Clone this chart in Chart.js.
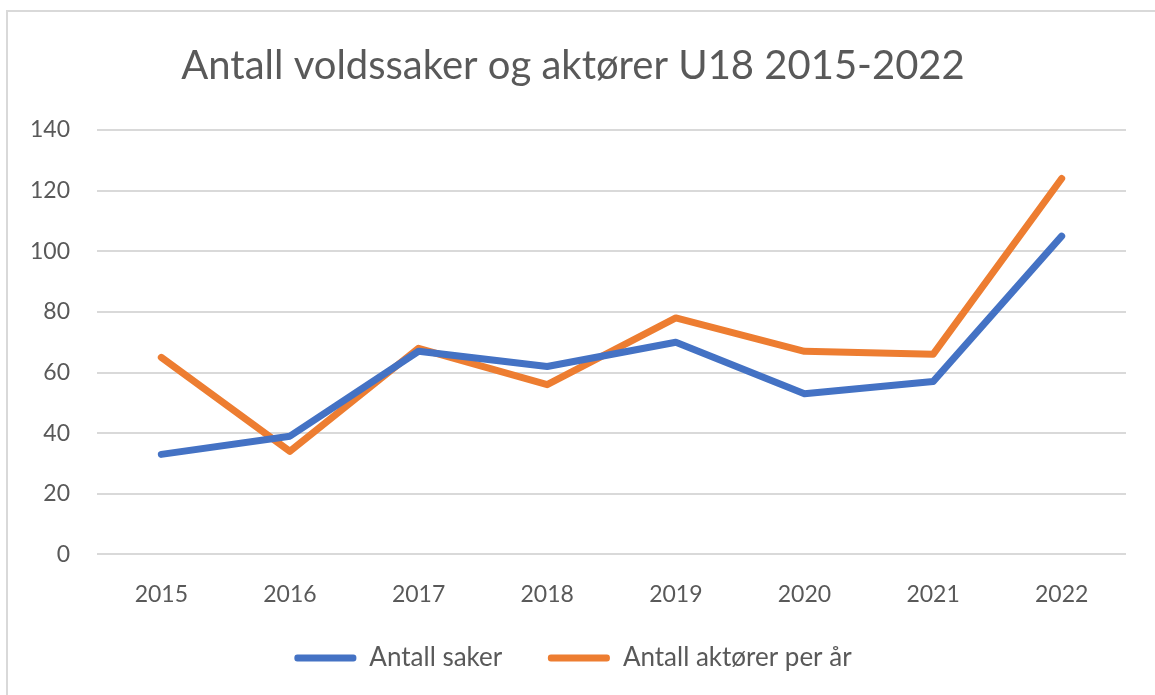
<!DOCTYPE html>
<html>
<head>
<meta charset="utf-8">
<script src="https://cdn.jsdelivr.net/npm/chart.js@4"></script>
<style>
  body { margin: 0; background: #fff; }
  #ramme { position: absolute; left: 6px; top: 10px; width: 1160px; height: 700px; border: 2px solid #d9d9d9; box-sizing: border-box; }
  #wrap { position: absolute; left: 0; top: 0; width: 1155px; height: 695px; }
</style>
</head>
<body>
<div id="ramme"></div>
<div id="wrap"><canvas id="graf"></canvas></div>
<script>
const aar = ['2015', '2016', '2017', '2018', '2019', '2020', '2021', '2022']
const antallSaker = [33, 39, 67, 62, 70, 53, 57, 105]
const antallAktorer = [65, 34, 68, 56, 78, 67, 66, 124]
const yTicks = [0, 20, 40, 60, 80, 100, 120, 140]

const tekstFarge = '#595959'
const font = 'Lato, "Open Sans", sans-serif'

const ctx = document.getElementById('graf').getContext('2d')
new Chart(ctx, {
  type: 'line',
  data: {
    labels: aar,
    datasets: [{
      label: 'Antall saker',
      data: antallSaker,
      borderColor: '#4472C4',
      backgroundColor: '#4472C4',
      borderWidth: 7,
      pointRadius: 0,
      borderCapStyle: 'round',
      borderJoinStyle: 'round',
      tension: 0,
    }, {
      label: 'Antall aktører per år',
      data: antallAktorer,
      borderColor: '#ED7D31',
      backgroundColor: '#ED7D31',
      borderWidth: 7,
      pointRadius: 0,
      borderCapStyle: 'round',
      borderJoinStyle: 'round',
      tension: 0,
    }]
  },
  options: {
    responsive: true,
    maintainAspectRatio: false,
    animation: false,
    layout: { padding: { left: 20, right: 29, top: 42, bottom: 14 } },
    scales: {
      x: {
        offset: true,
        grid: { display: false },
        border: { display: false },
        ticks: { color: tekstFarge, font: { family: font, size: 23 }, padding: 18 },
      },
      y: {
        min: 0,
        max: 140,
        afterBuildTicks: axis => { axis.ticks = yTicks.map(v => ({ value: v })) },
        afterFit: axis => { axis.width = 77 },
        grid: { color: '#d9d9d9', lineWidth: 2, drawTicks: false },
        border: { display: false },
        ticks: { color: tekstFarge, font: { family: font, size: 23 }, padding: 27 },
      }
    },
    plugins: {
      title: {
        display: true,
        text: 'Antall voldssaker og aktører U18 2015-2022',
        color: tekstFarge,
        font: { family: font, size: 40, weight: 'normal' },
        padding: { top: 0, bottom: 40 },
      },
      legend: {
        position: 'bottom',
        labels: {
          color: tekstFarge,
          font: { family: font, size: 26 },
          boxWidth: 62,
          boxHeight: 7,
          useBorderRadius: true,
          borderRadius: 3,
          padding: 19,
          // litt ekstra luft mellom de to forklaringene
          generateLabels: chart => Chart.defaults.plugins.legend.labels.generateLabels(chart)
            .map((l, i) => ({ ...l, lineWidth: 0, text: i === 0 ? l.text + '    ' : l.text })),
        }
      },
      tooltip: { enabled: false },
    }
  }
})
</script>
</body>
</html>
